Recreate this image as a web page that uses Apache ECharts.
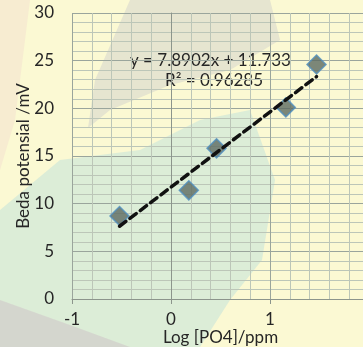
<!DOCTYPE html>
<html>
<head>
    <meta charset="utf-8" />
    <title>ECharts</title>
    <style>
        html, body { margin: 0; padding: 0; }
        #main { width: 363px; height: 347px; background: #fbf9d3; }
    </style>
</head>
<body>
    <div id="main"></div>
</body>
<script src="https://cdn.jsdelivr.net/npm/echarts@6/dist/echarts.min.js"></script>
<script type="text/javascript">
    // data
    var logPO4 = [-0.52, 0.18, 0.46, 1.16, 1.47];
    var potensial = [8.7, 11.4, 15.8, 20.1, 24.6];
    var trendX = [-0.52, 1.47];
    var trendY = [7.63, 23.33];
    var eqText = ['y = 7.8902x + 11.733', 'R² = 0.96285'];

    var chartDom = document.getElementById('main');
    var myChart = echarts.init(chartDom);
    var option;

    var textColor = '#262626';
    var font = 'Lato, "Open Sans", sans-serif';

    option = {
        animation: false,
        textStyle: { fontFamily: font },
        graphic: [
            // faded background shapes behind the chart
            {
                type: 'polygon', z: -10, silent: true,
                shape: { points: [[0, 0], [30, 0], [15, 120], [0, 170]] },
                style: { fill: 'rgba(240, 205, 205, 0.3)' }
            },
            {
                type: 'polygon', z: -10, silent: true,
                shape: { points: [[0, 210], [60, 160], [140, 150], [200, 120], [250, 110], [275, 180], [262, 260], [230, 300], [200, 347], [0, 347]] },
                style: { fill: 'rgba(200, 228, 218, 0.6)' }
            },
            {
                type: 'polygon', z: -10, silent: true,
                shape: { points: [[0, 300], [70, 325], [130, 347], [0, 347]] },
                style: { fill: 'rgba(210, 210, 205, 0.85)' }
            },
            {
                type: 'polygon', z: -10, silent: true,
                shape: { points: [[130, 0], [270, 0], [280, 40], [230, 70], [170, 85], [110, 110], [88, 128], [95, 80]] },
                style: { fill: 'rgba(205, 205, 205, 0.45)' }
            },
            {
                type: 'text', left: 130, top: 52,
                style: { text: eqText[0], fill: textColor, font: '17px ' + font }
            },
            {
                type: 'text', left: 165, top: 72,
                style: { text: eqText[1], fill: textColor, font: '17px ' + font }
            }
        ],
        grid: {
            left: 72,
            top: 13,
            right: -6,
            bottom: 48,
            outerBoundsMode: 'none'
        },
        xAxis: {
            type: 'value',
            min: -1,
            max: 2,
            interval: 1,
            name: 'Log [PO4]/ppm',
            nameLocation: 'middle',
            nameGap: 30,
            nameMoveOverlap: false,
            nameTextStyle: { fontSize: 17, color: textColor },
            axisLine: { show: true, onZero: false, lineStyle: { color: '#8c958c', width: 1 } },
            axisTick: { show: true, length: 5, lineStyle: { color: '#8c958c' } },
            axisLabel: { fontSize: 17, color: textColor, margin: 12, showMaxLabel: false },
            splitLine: { show: true, lineStyle: { color: '#9aa59c', width: 1 } },
            minorTick: { show: false, splitNumber: 5 },
            minorSplitLine: { show: true, lineStyle: { color: '#bcc6b8', width: 1 } }
        },
        yAxis: {
            type: 'value',
            min: 0,
            max: 30,
            interval: 5,
            name: 'Beda potensial /mV',
            nameLocation: 'middle',
            nameGap: 40,
            nameMoveOverlap: false,
            nameTextStyle: { fontSize: 17, color: textColor },
            axisLine: { show: true, lineStyle: { color: '#8c958c', width: 1 } },
            axisTick: { show: false },
            axisLabel: { fontSize: 17, color: textColor, margin: 18 },
            splitLine: { show: true, lineStyle: { color: '#9aa59c', width: 1 } },
            minorTick: { show: false, splitNumber: 5 },
            minorSplitLine: { show: true, lineStyle: { color: '#bcc6b8', width: 1 } }
        },
        series: [
            {
                type: 'line',
                data: trendX.map(function (x, i) { return [x, trendY[i]]; }),
                symbol: 'none',
                lineStyle: { color: '#111', width: 3.5, type: [8, 5], cap: 'round' },
                z: 3
            },
            {
                type: 'scatter',
                data: logPO4.map(function (x, i) { return [x, potensial[i]]; }),
                symbol: 'diamond',
                symbolSize: [19, 19],
                itemStyle: {
                    color: '#5c6a62',
                    borderColor: '#4f8fbf',
                    borderWidth: 1.5
                },
                z: 2
            }
        ]
    };

    option && myChart.setOption(option);
</script>
</html>
